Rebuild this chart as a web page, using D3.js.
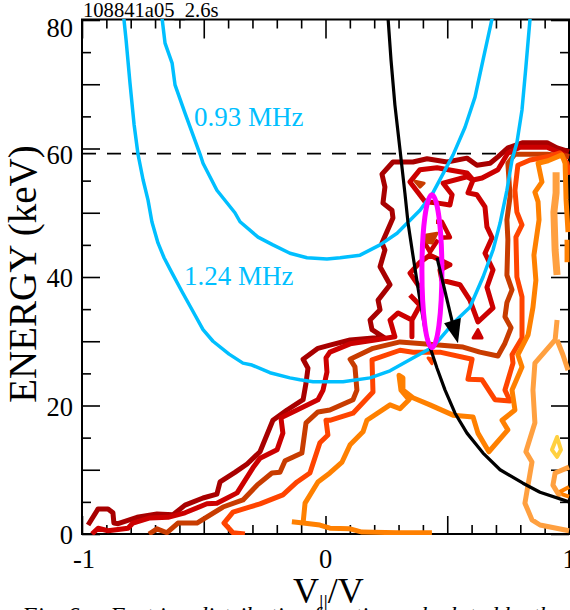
<!DOCTYPE html>
<html>
<head>
<meta charset="utf-8">
<script src="https://cdn.jsdelivr.net/npm/d3@7"></script>
<style>
  html, body { margin: 0; padding: 0; background: #fff; overflow: hidden; }
  text { font-family: "Liberation Serif", serif; }
</style>
</head>
<body>
<script>
// V||/V, energy (keV)
var resonance124 = [[-.828,80.2],[-.819,76.9],[-.803,70.2],[-.786,63.7],[-.770,59.1],[-.749,55.1],[-.729,52.0],[-.713,48.6],[-.688,45.3],[-.663,43.0],[-.630,40.6],[-.589,37.7],[-.548,34.9],[-.503,31.8],[-.462,30.0],[-.396,28.0],[-.339,26.6],[-.302,26.3],[-.228,25.1],[-.146,24.3],[-.105,24.0],[-.051,23.7],[.018,23.7],[.072,23.7],[.183,24.3],[.265,25.4],[.359,27.4],[.441,29.1],[.524,32.8],[.593,35.3],[.647,40.0],[.688,44.2],[.717,48.4],[.745,53.5],[.766,58.2],[.786,60.9],[.807,66.0],[.823,72.7],[.840,80.2]];
var resonance093 = [[-.671,80.2],[-.659,76.4],[-.630,73.3],[-.618,69.9],[-.577,65.5],[-.515,59.1],[-.503,57.7],[-.446,53.5],[-.372,50.0],[-.351,48.6],[-.277,46.2],[-.216,45.0],[-.146,43.7],[-.076,43.0],[.006,42.8],[.060,43.0],[.142,43.4],[.224,45.0],[.294,46.8],[.388,50.4],[.441,53.1],[.524,59.0],[.573,63.3],[.614,68.0],[.647,73.8],[.684,80.2]];
var orbitCurve = [[.257,80.2],[.269,73.8],[.285,66.8],[.306,59.8],[.326,53.1],[.339,48.4],[.359,43.4],[.388,36.4],[.409,31.8],[.429,29.1],[.458,25.8],[.491,22.4],[.532,18.8],[.581,15.7],[.647,12.6],[.717,10.0],[.811,7.9],[.881,6.5],[1,5.0]];

var level1 = [[-.975,1.4],[-.934,3.9],[-.893,3.9],[-.873,3.3],[-.869,1.7],[-.852,1.6],[-.774,2.6],[-.692,3.1],[-.626,3.0],[-.577,4.5],[-.503,5.6],[-.446,6.2],[-.433,8.1],[-.372,9.6],[-.322,10.9],[-.269,12.8],[-.216,17.7],[-.158,19.3],[-.092,20.9],[-.080,23.5],[-.072,25.8],[-.092,27.2],[-.031,28.9],[.018,29.4],[.101,30.2],[.195,30.5],[.244,30.5],[.191,31.8],[.183,33.3],[.224,34.9],[.216,36.4],[.265,38.8],[.224,41.6],[.244,44.2],[.232,45.3],[.277,49.2],[.273,50.4],[.236,51.5],[.244,54.0],[.232,56.0],[.277,57.9],[.359,57.9],[.417,58.4],[.499,57.9],[.581,58.5],[.622,57.4],[.676,57.7],[.708,58.7],[.749,60.1],[.811,60.9],[.910,60.9],[.951,60.1],[1,59.5]];

var level2a = [[-.959,0],[-.934,.9],[-.893,.5],[-.811,.9],[-.791,1.7],[-.721,2.5],[-.647,2.6],[-.577,3.3],[-.487,4.7],[-.446,4.8],[-.363,6.4],[-.298,10.3],[-.269,11.8],[-.199,13.1],[-.175,15.7],[-.183,18.1],[-.117,19.3],[-.031,20.9],[-.010,22.4],[.006,25.2],[.002,27.4],[.018,28.3],[.101,29.6],[.203,30.2],[.285,30.7],[.265,33.3],[.298,34.4],[.355,33.3],[.355,30.7],[.355,33.3],[.388,35.6],[.347,37.2]];
var level2b = [[.388,38.3],[.347,40.6],[.388,42.3],[.429,43.4],[.511,41.9],[.470,41.1],[.478,39.5],[.552,38.8],[.593,36.4],[.626,33.0],[.688,35.2],[.663,38.4],[.688,41.1],[.655,43.7],[.684,46.1],[.663,47.8],[.655,50.9],[.622,52.8],[.585,53.1],[.606,55.1],[.581,55.6],[.483,54.6],[.520,52.8],[.511,51.2],[.462,51.5],[.409,51.7],[.347,54.8],[.388,56.7],[.458,57.0],[.581,56.2],[.606,55.1],[.643,55.4],[.708,56.7],[.749,59.3],[.799,60.2],[.910,60.2],[1,58.7]];
var level2c = [[.454,48.6],[.478,48.6],[.511,46.2],[.470,46.1]];
var level2d = [[.400,45.8],[.429,43.9],[.462,45.8]];
var level2blob = [[.626,31.8],[.606,30.5],[.643,30.5]];

var level3 = [[-.725,0],[-.692,.8],[-.651,.2],[-.606,1.7],[-.528,1.7],[-.421,4.2],[-.339,5.3],[-.281,7.6],[-.220,9.5],[-.187,9.6],[-.166,11.4],[-.097,12.6],[-.080,17.3],[-.031,19.0],[.018,19.3],[.113,20.9],[.129,22.4],[.121,26.0],[.101,27.2],[.195,28.9],[.306,29.9],[.400,29.6],[.565,29.1],[.634,28.3],[.708,27.7],[.737,29.7],[.762,32.1],[.737,33.8],[.745,36.0],[.766,38.0],[.745,40.3],[.749,45.8],[.745,48.9],[.758,52.5],[.749,57.7],[.778,59.1],[.910,59.1],[1,58.8]];
var level3blobA = [[.368,54.9],[.405,54.6],[.388,54.0]];
var level3blobB = [[.409,46.5],[.458,46.8],[.437,45.3],[.417,45.4]];

var level4 = [[-.331,0],[-.380,.2],[-.417,1.7],[-.380,3.4],[-.269,4.7],[-.175,6.1],[-.117,8.1],[-.064,9.5],[-.023,14.2],[.010,15.4],[.002,17.7],[.018,17.7],[.113,18.8],[.195,22.1],[.191,27.1],[.306,28.6],[.359,28.3],[.470,28.3],[.602,27.2],[.585,24.1],[.643,24.0],[.696,20.9],[.758,20.7],[.737,22.4],[.770,26.6],[.766,27.9],[.807,30.5],[.807,36.9],[.786,40.0],[.782,46.2],[.807,48.1],[.786,50.1],[.778,53.5],[.790,57.4],[.840,58.2],[.922,58.8],[.963,59.3],[.992,57.7],[1,55.9]];
var level4blob = [[.421,27.4],[.441,27.2],[.437,26.5]];

var level5a = [[.437,.2],[.294,.2],[.150,.3],[.101,.8],[.018,.9],[-.023,1.4],[-.092,1.7],[-.138,1.9]];
var level5b = [[-.092,1.7],[-.084,4.8],[-.031,8.1],[.018,9.5],[.068,11.2],[.101,13.9],[.154,15.9],[.170,17.7],[.265,20.1],[.306,19.5],[.343,20.9],[.310,22.4],[.302,24.7],[.318,24.3],[.318,22.4],[.359,21.2],[.429,20.1],[.524,18.5],[.606,18.2],[.626,15.7],[.671,12.8],[.749,16.2],[.725,17.7],[.778,19.3],[.766,22.4],[.807,26.0],[.790,27.9],[.832,31.0],[.852,35.3],[.864,39.5],[.856,43.4],[.877,48.9],[.873,51.7],[.860,53.2],[.889,54.8],[.873,57.7],[.914,58.1],[.971,59.0],[.984,57.7],[.988,52.0],[.996,47.0]];
var level5c = [[.992,45.8],[.992,42.3]];
var level5blob = [[1,7.3],[.955,6.4],[1,5.8]];

var level6a = [[1,.5],[.881,1.4],[.848,2.2],[.819,4.8],[.848,11.2],[.823,12.8],[.860,17.3],[.852,22.4],[.860,26.6],[.943,30.2],[.951,33.3]];
var level6b = [[.951,30.2],[.975,27.9],[.996,25.5]];
var level6c = [[.947,56.3],[.947,53.1],[.938,50.1],[.943,44.2],[.951,40.3]];
var level6d = [[1,10.4],[.943,9.5],[.934,7.6],[.963,5.8]];
var level7 = [[.951,15.1],[.967,13.1],[.951,12.0],[.930,13.1]];

var alfvenEnergy = 59.2;
var ellipseCentre = [.437, 40.9];
var ellipseRadii = [.041, 11.9];
var arrowShaft = [[.458,43.0],[.530,31.5]];
var arrowHead = [[.487,32.8],[.544,29.7],[.556,33.6]];

var xMajor = [-1, -.5, 0, .5, 1];
var xMinor = [-.9,-.8,-.7,-.6,-.4,-.3,-.2,-.1,.1,.2,.3,.4,.6,.7,.8,.9];
var yMajor = [0, 20, 40, 60, 80];
var yMid = [10, 30, 50, 70];
var yMinor = [5, 15, 25, 35, 45, 55, 65, 75];

var w = 570, h = 610;
var x = d3.scaleLinear().domain([-1, 1]).range([82, 569]);
var y = d3.scaleLinear().domain([0, 80]).range([534, 20]);

var svg = d3.select('body').append('svg')
  .attr('width', w).attr('height', h)
  .style('display', 'block');

svg.append('defs').append('clipPath').attr('id', 'plot')
  .append('rect').attr('x', 82).attr('y', 19).attr('width', 488).attr('height', 516);

svg.append('text').text('108841a05_2.6s')
  .attr('x', 83).attr('y', 17).attr('font-size', 20.6).attr('fill', '#000');

// ticks all point inwards
function xTicks(side, vals, len, pos) {
  var ax = (side === 'top' ? d3.axisTop(x) : d3.axisBottom(x)).tickValues(vals).tickSizeOuter(0);
  ax.tickSizeInner(-len).tickFormat('');
  var g = svg.append('g').attr('transform', 'translate(0,' + pos + ')').call(ax);
  g.selectAll('.domain').remove();
  g.selectAll('line').attr('stroke', '#000').attr('stroke-width', 1.6);
}
function yTicks(side, vals, len, pos) {
  var ax = (side === 'left' ? d3.axisLeft(y) : d3.axisRight(y)).tickValues(vals).tickSizeOuter(0);
  ax.tickSizeInner(-len).tickFormat('');
  var g = svg.append('g').attr('transform', 'translate(' + pos + ',0)').call(ax);
  g.selectAll('.domain').remove();
  g.selectAll('line').attr('stroke', '#000').attr('stroke-width', 1.6);
}
xTicks('bottom', xMajor, 18, 534); xTicks('bottom', xMinor, 9, 534);
xTicks('top', xMajor, 19, 19.5); xTicks('top', xMinor, 9, 19.5);
yTicks('left', yMajor.concat(yMid), 18, 82); yTicks('left', yMinor, 9, 82);
yTicks('right', yMajor.concat(yMid), 18, 569); yTicks('right', yMinor, 9, 569);

svg.append('rect').attr('x', 82).attr('y', 19.5).attr('width', 487).attr('height', 514.5)
  .attr('fill', 'none').attr('stroke', '#000').attr('stroke-width', 2);

// tick labels
var yShift = { 0: 1, 20: 2, 40: 1, 60: 7, 80: 8 };
svg.selectAll('.ylab').data(yMajor).enter().append('text')
  .attr('class', 'ylab')
  .attr('x', 73)
  .attr('y', d => y(d) + yShift[d])
  .attr('dy', '.33em')
  .attr('text-anchor', 'end')
  .attr('font-size', 26.5)
  .text(d => d);
svg.selectAll('.xlab').data([-1, 0, 1]).enter().append('text')
  .attr('class', 'xlab')
  .attr('x', d => x(d) + (d === -1 ? 2 : 0))
  .attr('y', 568)
  .attr('text-anchor', 'middle')
  .attr('font-size', 26.5)
  .text(d => String(d));

svg.append('text').text('ENERGY (keV)')
  .attr('transform', 'translate(36,274) rotate(-90)')
  .attr('text-anchor', 'middle')
  .attr('font-size', 39);

var xTitle = svg.append('text').attr('x', 293).attr('y', 603).attr('font-size', 36);
xTitle.append('tspan').text('V');
xTitle.append('tspan').text('||').attr('font-size', 22).attr('dy', 6);
xTitle.append('tspan').text('/V').attr('dy', -6);

svg.append('text').text('Fig. 6.')
  .attr('x', 22).attr('y', 623).attr('font-size', 24).attr('font-style', 'italic');
svg.append('text').text('Fast ion distribution function calculated by the')
  .attr('x', 110).attr('y', 623).attr('font-size', 24).attr('font-style', 'italic');

var line = d3.line().x(d => x(d[0])).y(d => y(d[1]));
var plot = svg.append('g').attr('clip-path', 'url(#plot)');

plot.append('line')
  .attr('x1', x(-1)).attr('x2', x(1))
  .attr('y1', y(alfvenEnergy)).attr('y2', y(alfvenEnergy))
  .attr('stroke', '#000').attr('stroke-width', 1.6)
  .attr('stroke-dasharray', '14 11');

function stroke(pts, color, width, closed) {
  plot.append('path').datum(pts)
    .attr('d', line(pts) + (closed ? 'Z' : ''))
    .attr('fill', 'none')
    .attr('stroke', color)
    .attr('stroke-width', width)
    .attr('stroke-linejoin', 'round')
    .attr('stroke-linecap', 'butt');
}
function blob(pts, color) {
  plot.append('path').datum(pts)
    .attr('d', line(pts) + 'Z')
    .attr('fill', color).attr('stroke', color)
    .attr('stroke-width', 3).attr('stroke-linejoin', 'round');
}

var cDark = '#a80000', cRed = '#cc0000', cBurnt = '#c83c00',
    cFlame = '#ff4400', cOrange = '#ff8000', cPale = '#ffa040', cYellow = '#ffd040';

stroke(level1, cDark, 5);
[level2a, level2b].forEach(p => stroke(p, cRed, 5));
stroke(level2c, cRed, 4.5);
stroke(level2d, cRed, 4.5);
blob(level2blob, cRed);
stroke(level3, cBurnt, 5);
blob(level3blobA, cBurnt);
blob(level3blobB, cBurnt);
stroke(level4, cFlame, 5);
blob(level4blob, cFlame);
[level5a, level5b, level5c].forEach(p => stroke(p, cOrange, 5));
stroke(level5blob, cOrange, 4);
stroke(level6a, cPale, 5);
stroke(level6b, cPale, 5);
stroke(level6c, cPale, 7);
stroke(level6d, cPale, 5);
stroke(level7, cYellow, 4, true);

stroke(resonance124, '#00bfff', 3.5);
stroke(resonance093, '#00bfff', 3.5);
stroke(orbitCurve, '#000', 3.2);

plot.append('ellipse')
  .attr('cx', x(ellipseCentre[0])).attr('cy', y(ellipseCentre[1]))
  .attr('rx', x(ellipseCentre[0] + ellipseRadii[0]) - x(ellipseCentre[0]))
  .attr('ry', y(ellipseCentre[1] - ellipseRadii[1]) - y(ellipseCentre[1]))
  .attr('fill', 'none').attr('stroke', '#ff00ff').attr('stroke-width', 5);

stroke(arrowShaft, '#000', 3.2);
plot.append('path').attr('d', line(arrowHead) + 'Z').attr('fill', '#000');

svg.append('text').text('0.93 MHz')
  .attr('x', 194).attr('y', 126).attr('font-size', 27).attr('fill', '#00bfff');
svg.append('text').text('1.24 MHz')
  .attr('x', 184).attr('y', 285).attr('font-size', 27).attr('fill', '#00bfff');
</script>
</body>
</html>
